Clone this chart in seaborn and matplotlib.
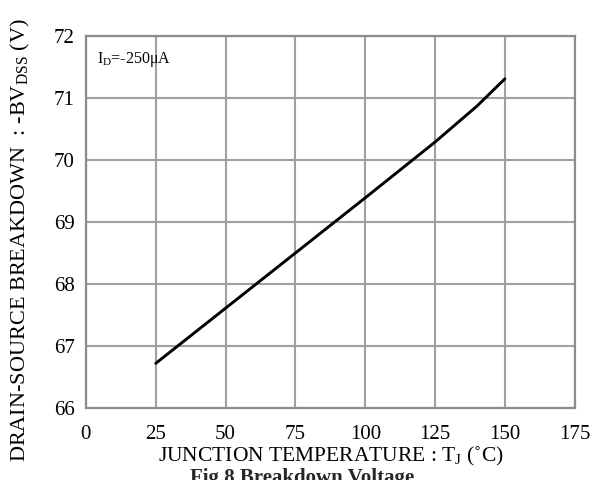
import matplotlib
matplotlib.use("Agg")
import matplotlib.pyplot as plt
import seaborn as sns
import pandas as pd

temps = [25, 50, 75, 100, 125, 140, 150]
bvdss = [66.72, 67.61, 68.5, 69.39, 70.29, 70.87, 71.31]
xticks = [0, 25, 50, 75, 100, 125, 150, 175]
yticks = [66, 67, 68, 69, 70, 71, 72]

sns.set_theme(style="white")
plt.rcParams['font.family'] = ['Liberation Serif', 'DejaVu Serif']
plt.rcParams['mathtext.fontset'] = 'custom'
plt.rcParams['mathtext.rm'] = 'Liberation Serif'
plt.rcParams['mathtext.it'] = 'Liberation Serif:italic'

df = pd.DataFrame({"T": temps, "BV": bvdss})

fig = plt.figure(figsize=(6.05, 4.8), dpi=100)
ax = fig.add_axes([0.142, 0.15, 0.808, 0.775])
sns.lineplot(data=df, x="T", y="BV", ax=ax, color="black", linewidth=2.1)

ax.set_xlim(0, 175)
ax.set_ylim(66, 72)
ax.set_xticks(xticks)
ax.set_yticks(yticks)
ax.tick_params(axis='x', length=0, labelsize=15, pad=12, colors='black')
ax.tick_params(axis='y', length=0, labelsize=15, pad=8, colors='black')
ax.grid(True, color="#a0a0a0", linewidth=1.5)
for s in ax.spines.values():
    s.set_color("#8c8c8c")
    s.set_linewidth(1.6)

ax.set_xlabel(r"JUNCTION TEMPERATURE : T$_{\rm J}$ (˚C)", fontsize=15.5, labelpad=1, color='black')
ax.set_ylabel(r"DRAIN-SOURCE BREAKDOWN  : -BV$_{\rm DSS}$ (V)", fontsize=16, color='black', va='center')
ax.yaxis.set_label_coords(-0.133, 0.45)
ax.text(4, 71.78, r"I$_{\rm D}$=-250μA", fontsize=11.5, va='top', ha='left', color='black')

fig.text(0.5, 0.026, "Fig.8 Breakdown Voltage", fontsize=15, fontweight='bold', ha='center', va='top')

fig.savefig("out.png", dpi=100)
